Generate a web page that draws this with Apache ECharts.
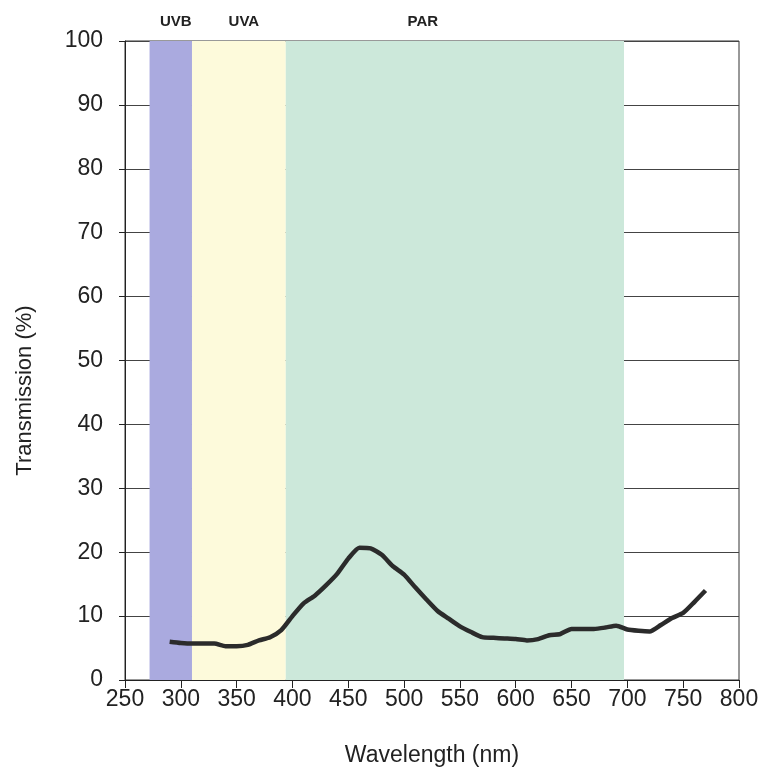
<!DOCTYPE html>
<html>
<head>
<meta charset="utf-8">
<script src="https://cdn.jsdelivr.net/npm/echarts@6/dist/echarts.min.js"></script>
<style>
html,body{margin:0;padding:0;background:#fff;}
#chart{width:764px;height:778px;}
</style>
</head>
<body>
<div id="chart"></div>
<script>
// Data
var wavelengths = [290,300,310,320,330,340,350,360,370,380,390,400,410,420,430,440,450,460,470,480,490,500,510,520,530,540,550,560,570,580,590,600,610,620,630,640,650,660,670,680,690,700,710,720,730,740,750,760,770];
var transmission = [6.0,5.8,5.7,5.7,5.7,5.3,5.3,5.5,6.2,6.7,7.8,10.0,12.0,13.2,14.8,16.6,19.0,20.7,20.6,19.6,17.8,16.5,14.5,12.6,10.8,9.6,8.4,7.5,6.7,6.6,6.5,6.4,6.2,6.4,7.0,7.2,8.0,8.0,8.0,8.2,8.5,7.9,7.7,7.6,8.6,9.7,10.5,12.2,14.0];
var bandNames = ['UVB','UVA','PAR'];
var bandStarts = [272,310,394];
var bandEnds = [310,394,697];
var xTicks = {min:250, max:800, interval:50};
var yTicks = {min:0, max:100, interval:10};

// Styles
var bandColors = ['#aaaadf','#fdfadb','#cce8da'];
var bandLabelOffsets = [[5,0],[5,0],[-32,0]];
var font = "'Liberation Sans', Arial, sans-serif";

var chart = echarts.init(document.getElementById('chart'));
var seriesData = wavelengths.map(function(w,i){return [w, transmission[i]];});
var areas = bandNames.map(function(n,i){
  return [
    {name:n, xAxis:bandStarts[i], itemStyle:{color:bandColors[i], opacity:1},
     label:{offset:bandLabelOffsets[i]}},
    {xAxis:bandEnds[i]}
  ];
});

chart.setOption({
  animation:false,
  backgroundColor:'#fff',
  grid:{left:125, right:25, top:41, bottom:98, show:true, borderColor:'#333', borderWidth:1, backgroundColor:'transparent'},
  xAxis:{
    type:'value', min:xTicks.min, max:xTicks.max, interval:xTicks.interval,
    name:'Wavelength (nm)', nameLocation:'middle', nameGap:64,
    nameTextStyle:{fontFamily:font, fontSize:23, color:'#222'},
    axisLine:{show:true, onZero:false, lineStyle:{color:'#222', width:1}},
    axisTick:{show:true, length:8, lineStyle:{color:'#222'}},
    axisLabel:{fontFamily:font, fontSize:23, color:'#222', margin:8},
    splitLine:{show:false}
  },
  yAxis:{
    type:'value', min:yTicks.min, max:yTicks.max, interval:yTicks.interval,
    name:'Transmission (%)', nameLocation:'middle', nameGap:89,
    nameTextStyle:{fontFamily:font, fontSize:22, color:'#222', padding:[0,60,0,0]},
    axisLine:{show:true, lineStyle:{color:'#222', width:1}},
    axisTick:{show:true, length:6, lineStyle:{color:'#222'}},
    axisLabel:{fontFamily:font, fontSize:23, color:'#222', margin:22},
    splitLine:{show:true, lineStyle:{color:'#444', width:1}}
  },
  series:[{
    type:'line',
    data:seriesData,
    showSymbol:false,
    smooth:0.2,
    lineStyle:{color:'#2b2b2b', width:4.5},
    z:5,
    markArea:{
      silent:true,
      z:1,
      label:{show:true, position:'top', distance:12, fontFamily:font, fontSize:15, fontWeight:'bold', color:'#222'},
      data:areas
    }
  }]
});
</script>
</body>
</html>
